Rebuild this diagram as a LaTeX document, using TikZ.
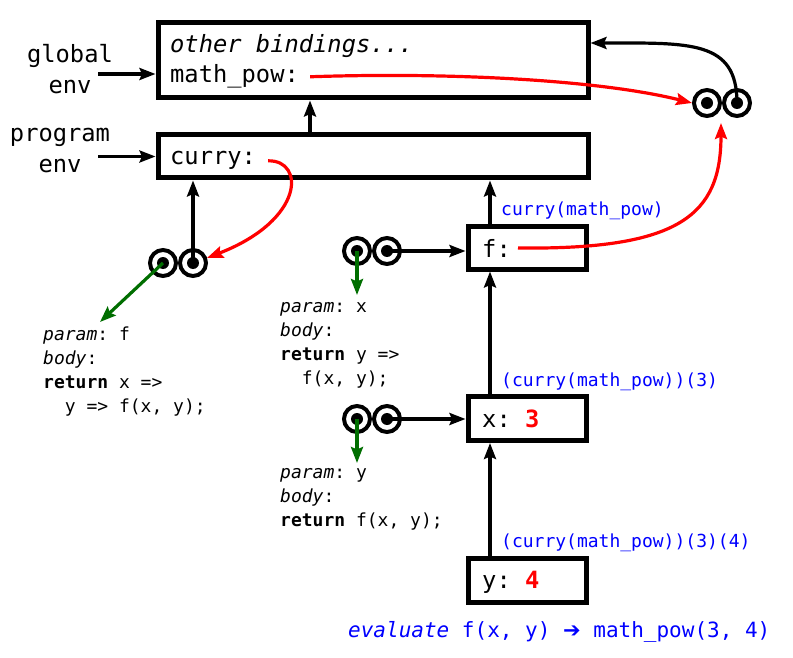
\documentclass[tikz,border=0pt]{standalone}
\usepackage{fontspec}
\setmonofont{DejaVu Sans Mono}
\newfontfamily\arrowfont{DejaVu Sans}
\usetikzlibrary{arrows.meta,positioning}
\definecolor{verdeparam}{RGB}{0,110,0}

\begin{document}
\begin{tikzpicture}[
	x=1pt, y=-1pt,
	font=\ttfamily\fontsize{23.75}{28}\selectfont,
	>={Stealth[length=16pt, width=12pt, inset=2.5pt]},
	envbox/.style={rectangle, draw=black, line width=5pt, inner sep=0pt},
	ring/.style={circle, draw=black, line width=4pt, minimum size=26pt, inner sep=0pt},
	txt/.style={inner sep=0pt, anchor=base west},
	tag/.style={inner sep=0pt, align=center, font=\ttfamily\fontsize{23.75}{31}\selectfont},
	code/.style={inner sep=0pt, anchor=north west, align=left, font=\ttfamily\fontsize{18}{24}\selectfont},
	note/.style={txt, text=blue, font=\ttfamily\fontsize{18}{24}\selectfont},
	seta/.style={->, line width=3.2pt, black},
	ptr/.style={->, line width=3.2pt, red},
	parm/.style={->, line width=3.2pt, verdeparam},
]
\useasboundingbox (0,0) rectangle (793,658);

% frames
\node[envbox, minimum width=430pt, minimum height=75pt] (global) at (373,60.5) {};
\node[envbox, minimum width=430pt, minimum height=43pt] (program) at (373,156.5) {};
\node[envbox, minimum width=118pt, minimum height=43pt] (fbox) at (527,247.5) {};
\node[envbox, minimum width=118pt, minimum height=44pt] (xbox) at (527,418.5) {};
\node[envbox, minimum width=118pt, minimum height=44pt] (ybox) at (527,580) {};

\node[txt] (others) at (170,53) {\itshape other bindings...};
\node[txt] (pow) at (170,83) {math\_pow:};
\node[txt] (cur) at (170,165) {curry:};
\node[txt] (fl) at (482,257) {f:};
\node[txt] (xl) at (482,427) {x: \textbf{\textcolor{red}{3}}};
\node[txt] (yl) at (482,588) {y: \textbf{\textcolor{red}{4}}};

\node[tag] (gtag) at (70,69.5) {global\\env};
\node[tag] (ptag) at (60,151) {program\\env};
\coordinate (gin) at (98,74);
\coordinate (pin) at (98,156.5);

% function objects
\foreach \n/\px/\py in {tg/707/103, pg/163/263, fa/357/251, fb/357/419} {
	\node[ring] (\n l) at (\px,\py) {};
	\node[ring] (\n r) at (\px+30,\py) {};
	\fill (\n l.center) circle[radius=6pt];
	\fill (\n r.center) circle[radius=6pt];
}

% bodies
\node[code] (pgcode) at (43,323) {\strut{\itshape param}: f\\
{\itshape body}:\\
\textbf{return} x =>\\
\hphantom{xx}y => f(x, y);};
\node[code] (facode) at (280,295) {\strut{\itshape param}: x\\
{\itshape body}:\\
\textbf{return} y =>\\
\hphantom{xx}f(x, y);};
\node[code] (fbcode) at (280,461) {\strut{\itshape param}: y\\
{\itshape body}:\\
\textbf{return} f(x, y);};

\node[note] (n1) at (501,215) {curry(math\_pow)};
\node[note] (n2) at (501,386) {(curry(math\_pow))(3)};
\node[note] (n3) at (501,547) {(curry(math\_pow))(3)(4)};
\node[txt, text=blue, font=\ttfamily\fontsize{21}{24}\selectfont] (evalnote) at (348,637) {{\itshape evaluate} f(x, y) {\arrowfont\bfseries ➔} math\_pow(3, 4)};

\coordinate (pgarg) at (100,322);
\coordinate (faarg) at (357,295);
\coordinate (fbarg) at (357,463);
\coordinate (tgin) at (721,123);

% environment links
\draw[seta] (gin) -- (gin -| global.west);
\draw[seta] (pin) -- (program.west);
\draw[seta] ([xshift=-63pt]program.north) -- ([xshift=-63pt]global.south);
\draw[seta] ([xshift=-37pt]fbox.north) -- ([xshift=-37pt]fbox.north |- program.south);
\draw[seta] ([xshift=-37pt]xbox.north) -- ([xshift=-37pt]xbox.north |- fbox.south);
\draw[seta] ([xshift=-37pt]ybox.north) -- ([xshift=-37pt]ybox.north |- xbox.south);
\draw[seta] (pgr.center) -- (pgr.center |- program.south);
\draw[seta] (far.center) -- (far.center -| fbox.west);
\draw[seta] (fbr.center) -- (fbr.center -| xbox.west);
\draw[seta] (tgr.center) .. controls (737,40) and (690,43) .. ([yshift=17.5pt]global.east);

% values
\draw[ptr] ([xshift=11pt]pow.east) .. controls (450,72) and (600,80) .. (tgl.west);
\draw[ptr] ([xshift=12pt]cur.east) .. controls (305,160) and (305,220) .. (pgr.20);
\draw[ptr] ([xshift=7pt]fl.east) .. controls (680,250) and (721,215) .. (tgin);

% parameters
\draw[parm] (pgl.center) -- (pgarg);
\draw[parm] (fal.center) -- (faarg);
\draw[parm] (fbl.center) -- (fbarg);
\end{tikzpicture}
\end{document}
